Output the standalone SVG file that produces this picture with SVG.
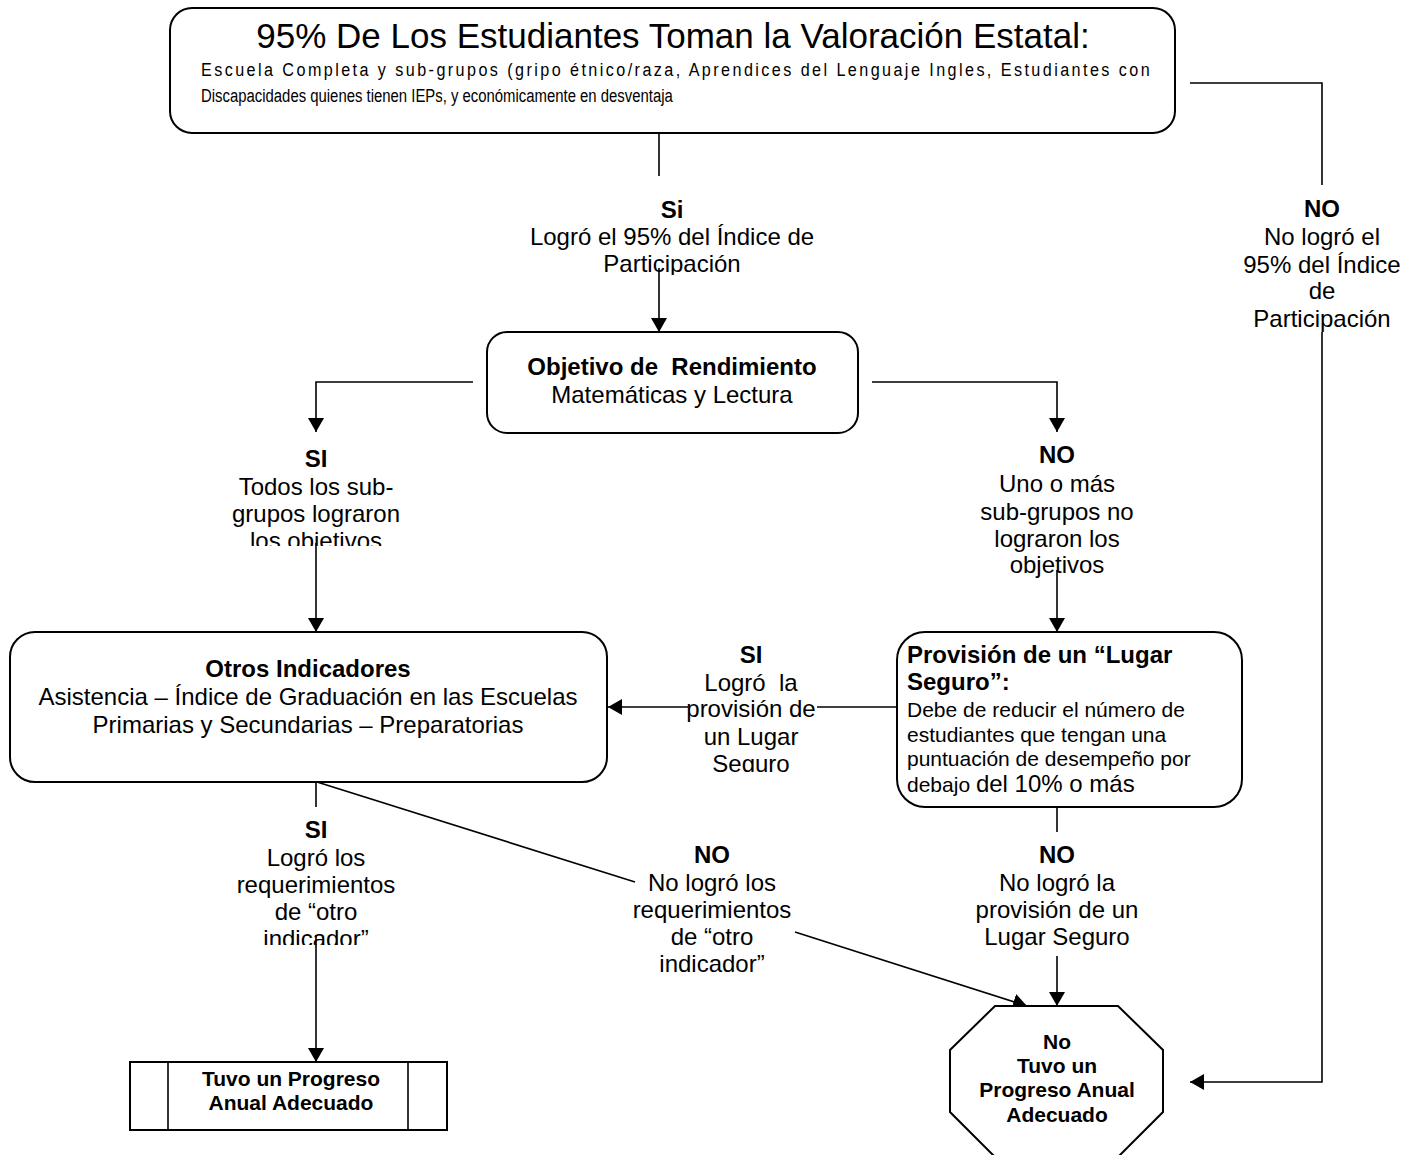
<svg xmlns="http://www.w3.org/2000/svg" width="1417" height="1155" viewBox="0 0 1417 1155">
<style>
text{font-family:"Liberation Sans",Arial,sans-serif;fill:#000}
.box{fill:#fff;stroke:#000;stroke-width:2}
.ln{fill:none;stroke:#000;stroke-width:1.6}
.lbl{font-size:24px;text-anchor:middle}
.b{font-weight:bold}
.c{text-anchor:middle}
</style>
<defs>
<marker id="ah" viewBox="0 0 14 16" refX="14" refY="8" markerWidth="14" markerHeight="16" markerUnits="userSpaceOnUse" orient="auto">
<path d="M0,0 L14,8 L0,16 z" fill="#000"/>
</marker>
<clipPath id="c1"><rect x="480" y="190" width="400" height="85"/></clipPath>
<clipPath id="c2"><rect x="200" y="440" width="240" height="106"/></clipPath>
<clipPath id="c3"><rect x="640" y="640" width="230" height="132"/></clipPath>
<clipPath id="c4"><rect x="200" y="810" width="240" height="135"/></clipPath>
</defs>

<g id="connectors">
<line class="ln" x1="659" y1="133" x2="659" y2="176"/>
<line class="ln" x1="659" y1="268" x2="659" y2="332" marker-end="url(#ah)"/>
<polyline class="ln" points="1190,83 1322,83 1322,185"/>
<polyline class="ln" points="1322,332 1322,1082 1190,1082" marker-end="url(#ah)"/>
<polyline class="ln" points="473,382 316,382 316,432" marker-end="url(#ah)"/>
<line class="ln" x1="316" y1="543" x2="316" y2="632" marker-end="url(#ah)"/>
<polyline class="ln" points="872,382 1057,382 1057,432" marker-end="url(#ah)"/>
<line class="ln" x1="1057" y1="570" x2="1057" y2="632" marker-end="url(#ah)"/>
<line class="ln" x1="897" y1="707" x2="817" y2="707"/>
<line class="ln" x1="688" y1="707" x2="608" y2="707" marker-end="url(#ah)"/>
<line class="ln" x1="316" y1="782" x2="316" y2="807"/>
<line class="ln" x1="316" y1="935" x2="316" y2="1062" marker-end="url(#ah)"/>
<line class="ln" x1="317" y1="782" x2="635" y2="882"/>
<line class="ln" x1="795" y1="932" x2="1027" y2="1006" marker-end="url(#ah)"/>
<line class="ln" x1="1057" y1="807" x2="1057" y2="832"/>
<line class="ln" x1="1057" y1="956" x2="1057" y2="1006" marker-end="url(#ah)"/>
</g>

<g id="node-top">
<rect class="box" x="170" y="8" width="1005" height="125" rx="22"/>
<text x="673" y="48" class="c" font-size="35">95% De Los Estudiantes Toman la Valoración Estatal:</text>
<g transform="scale(0.85,1)">
<text x="236.5" y="76" font-size="19" textLength="1116" lengthAdjust="spacing">Escuela Completa y sub-grupos (gripo étnico/raza, Aprendices del Lenguaje Ingles, Estudiantes con</text>
<text x="236.5" y="102" font-size="19" textLength="555" lengthAdjust="spacingAndGlyphs">Discapacidades quienes tienen IEPs, y económicamente en desventaja</text>
</g>
</g>

<g id="label-si-participacion" clip-path="url(#c1)">
<text class="lbl b" x="672" y="218">Si</text>
<text class="lbl" x="672" y="245">Logró el 95% del Índice de</text>
<text class="lbl" x="672" y="272">Participación</text>
</g>

<g id="label-no-participacion">
<text class="lbl b" x="1322" y="217">NO</text>
<text class="lbl" x="1322" y="245">No logró el</text>
<text class="lbl" x="1322" y="273">95% del Índice</text>
<text class="lbl" x="1322" y="299">de</text>
<text class="lbl" x="1322" y="327">Participación</text>
</g>

<g id="node-objetivo">
<rect class="box" x="487" y="332" width="371" height="101" rx="20"/>
<text class="lbl b" x="672" y="375">Objetivo de&#160; Rendimiento</text>
<text class="lbl" x="672" y="403">Matemáticas y Lectura</text>
</g>

<g id="label-si-objetivos" clip-path="url(#c2)">
<text class="lbl b" x="316" y="467">SI</text>
<text class="lbl" x="316" y="495">Todos los sub-</text>
<text class="lbl" x="316" y="522">grupos lograron</text>
<text class="lbl" x="316" y="549">los objetivos</text>
</g>

<g id="label-no-objetivos">
<text class="lbl b" x="1057" y="463">NO</text>
<text class="lbl" x="1057" y="492">Uno o más</text>
<text class="lbl" x="1057" y="520">sub-grupos no</text>
<text class="lbl" x="1057" y="547">lograron los</text>
<text class="lbl" x="1057" y="573">objetivos</text>
</g>

<g id="node-otros">
<rect class="box" x="10" y="632" width="597" height="150" rx="25"/>
<text class="lbl b" x="308" y="677">Otros Indicadores</text>
<text class="lbl" x="308" y="705">Asistencia – Índice de Graduación en las Escuelas</text>
<text class="lbl" x="308" y="733">Primarias y Secundarias – Preparatorias</text>
</g>

<g id="label-si-lugar" clip-path="url(#c3)">
<text class="lbl b" x="751" y="663">SI</text>
<text class="lbl" x="751" y="691">Logró&#160; la</text>
<text class="lbl" x="751" y="717">provisión de</text>
<text class="lbl" x="751" y="745">un Lugar</text>
<text class="lbl" x="751" y="772">Seguro</text>
</g>

<g id="node-lugar">
<rect class="box" x="897" y="632" width="345" height="175" rx="28"/>
<text x="907" y="663" font-size="24" font-weight="bold">Provisión de un “Lugar</text>
<text x="907" y="690" font-size="24" font-weight="bold">Seguro”:</text>
<text x="907" y="717" font-size="21">Debe de reducir el número de</text>
<text x="907" y="742" font-size="21">estudiantes que tengan una</text>
<text x="907" y="766" font-size="21">puntuación de desempeño por</text>
<text x="907" y="792" font-size="21">debajo <tspan font-size="24">del 10% o más</tspan></text>
</g>

<g id="label-si-otro" clip-path="url(#c4)">
<text class="lbl b" x="316" y="838">SI</text>
<text class="lbl" x="316" y="866">Logró los</text>
<text class="lbl" x="316" y="893">requerimientos</text>
<text class="lbl" x="316" y="920">de “otro</text>
<text class="lbl" x="316" y="947">indicador”</text>
</g>

<g id="label-no-otro">
<text class="lbl b" x="712" y="863">NO</text>
<text class="lbl" x="712" y="891">No logró los</text>
<text class="lbl" x="712" y="918">requerimientos</text>
<text class="lbl" x="712" y="945">de “otro</text>
<text class="lbl" x="712" y="972">indicador”</text>
</g>

<g id="label-no-lugar">
<text class="lbl b" x="1057" y="863">NO</text>
<text class="lbl" x="1057" y="891">No logró la</text>
<text class="lbl" x="1057" y="918">provisión de un</text>
<text class="lbl" x="1057" y="945">Lugar Seguro</text>
</g>

<g id="node-tuvo">
<rect class="box" x="130" y="1062" width="317" height="68"/>
<line class="ln" x1="168" y1="1062" x2="168" y2="1130" stroke-width="2"/>
<line class="ln" x1="408" y1="1062" x2="408" y2="1130" stroke-width="2"/>
<text x="291" y="1086" class="c b" font-size="21">Tuvo un Progreso</text>
<text x="291" y="1110" class="c b" font-size="21">Anual Adecuado</text>
</g>

<g id="node-no-tuvo">
<polygon class="box" points="995,1006 1118,1006 1163,1050 1163,1112 1118,1157 995,1157 950,1112 950,1050"/>
<text x="1057" y="1049" class="c b" font-size="21">No</text>
<text x="1057" y="1073" class="c b" font-size="21">Tuvo un</text>
<text x="1057" y="1097" class="c b" font-size="21">Progreso Anual</text>
<text x="1057" y="1122" class="c b" font-size="21">Adecuado</text>
</g>
</svg>
